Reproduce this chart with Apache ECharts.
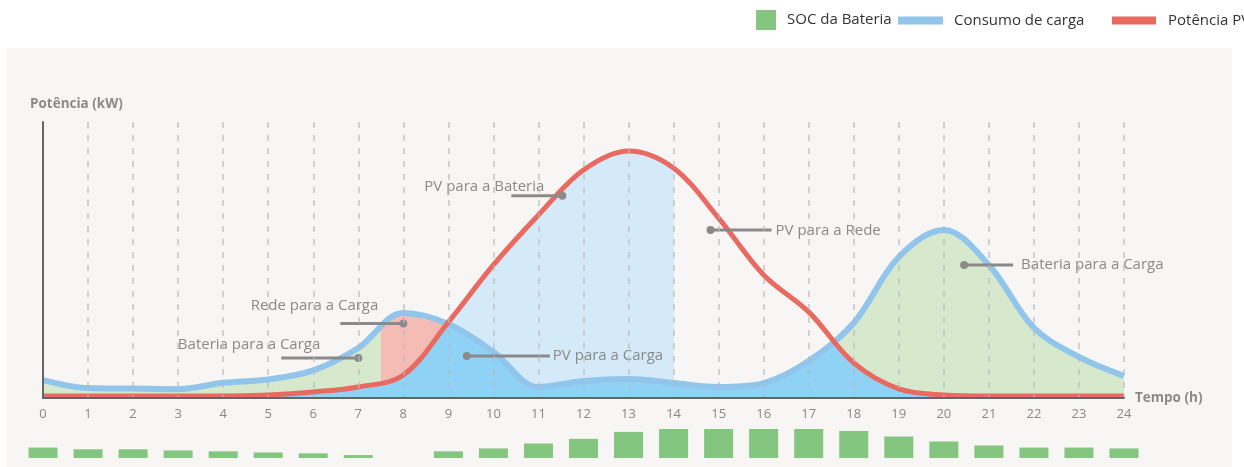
<!DOCTYPE html>
<html>
<head>
<meta charset="utf-8">
<script src="https://cdn.jsdelivr.net/npm/echarts@6/dist/echarts.min.js"></script>
<style>
html,body{margin:0;padding:0;background:#ffffff;}
#chart{width:1244px;height:467px;}
</style>
</head>
<body>
<div id="chart"></div>
<script>
// ---------------- DATA ----------------
const hours = [0,1,2,3,4,5,6,7,8,9,10,11,12,13,14,15,16,17,18,19,20,21,22,23,24];
const hourLabels = ['0','1','2','3','4','5','6','7','8','9','10','11','12','13','14','15','16','17','18','19','20','21','22','23','24'];
// Consumo de carga (kW)
const loadKW = [0.65,0.36,0.34,0.32,0.55,0.67,1.00,1.81,3.08,2.68,1.67,0.40,0.62,0.69,0.54,0.40,0.54,1.34,2.72,5.11,6.09,4.82,2.54,1.49,0.80];
// Potência PV (kW)
const pvKW = [0.07,0.07,0.07,0.07,0.07,0.11,0.22,0.40,0.83,2.75,4.82,6.63,8.26,8.95,8.33,6.52,4.46,3.12,1.27,0.33,0.11,0.07,0.07,0.07,0.07];
// SOC da Bateria (%)
const socPct = [36,30,30,26,23,19,16,10,0,23,33,50,66,90,100,100,100,100,93,74,57,43,36,36,33];
// Energy-flow segment boundaries (h)
const gridToLoadStart = 7.5;   // Rede para a Carga starts
const pvLoadCross1 = 8.96;     // PV exceeds load
const pvToBatteryEnd = 14;     // battery full
const pvLoadCross2 = 17.55;    // load exceeds PV
// Flow annotations
const flowLabels = ['Rede para a Carga','Bateria para a Carga','PV para a Carga','PV para a Bateria','PV para a Rede','Bateria para a Carga'];
const flowAnchorH = [8.0, 7.0, 9.41, 11.53, 14.82, 20.45];
const flowAnchorKW = [2.70, 1.45, 1.52, 7.33, 6.09, 4.82];

// ---------------- STYLE / LAYOUT ----------------
const FONT = '"Open Sans", "Noto Sans", sans-serif';
const SMOOTH = 0.35;
const C = {
  load: '#92c5ec', pv: '#e96a60', soc: '#84c57f',
  fillBlue: '#8fd2f5', fillLightBlue: '#d4eaf9', fillGreen: '#d6e9cd', fillPink: '#f5bcb5',
  none: 'rgba(0,0,0,0)', annot: '#8a8a8a'
};
const calloutLayout = [
  {dx:-63, tx:-25, ty:-18, align:'right'},
  {dx:-77, tx:-38, ty:-13, align:'right'},
  {dx:83,  tx:86,  ty:0,   align:'left'},
  {dx:-51, tx:-18, ty:-9,  align:'right'},
  {dx:61,  tx:65,  ty:1,   align:'left'},
  {dx:49,  tx:57,  ty:0,   align:'left'}
];

const pair = arr => hours.map((h, i) => [h, arr[i]]);

const chart = echarts.init(document.getElementById('chart'), null, {renderer:'canvas'});

const option = {
  animation: false,
  textStyle: {fontFamily: FONT},
  graphic: [
    {type:'rect', z:-100, silent:true, shape:{x:7, y:48, width:1225, height:419}, style:{fill:'#f7f6f5'}},
    {type:'text', z:50, silent:true, x:30, y:104, style:{text:'Potência (kW)', fill:'#8a8a8a', font:'bold 13.5px ' + FONT, verticalAlign:'middle'}}
  ],
  legend: [
    {data:['SOC da Bateria'], left:756, top:10, padding:0, icon:'rect', itemWidth:20, itemHeight:20,
     textStyle:{fontSize:15, color:'#333', fontFamily:FONT, padding:[0,0,0,6]}},
    {data:['Consumo de carga'], left:898, top:13, padding:0, icon:'rect', itemWidth:45, itemHeight:8,
     textStyle:{fontSize:15, color:'#333', fontFamily:FONT, padding:[0,0,0,6]}},
    {data:['Potência PV'], left:1112, top:13, padding:0, icon:'rect', itemWidth:44, itemHeight:8,
     textStyle:{fontSize:15, color:'#333', fontFamily:FONT, padding:[0,0,0,7]}}
  ],
  grid: [
    {left:43, right:120, top:122, bottom:69},
    {left:43, right:120, top:429, bottom:9}
  ],
  xAxis: [
    {type:'value', gridIndex:0, min:0, max:24, interval:1, z:10,
     name:'Tempo (h)', nameLocation:'end', nameGap:11,
     nameTextStyle:{color:'#8a8a8a', fontWeight:'bold', fontSize:13.5, fontFamily:FONT, verticalAlign:'middle', padding:[0,0,8,0]},
     axisLine:{lineStyle:{color:'#666', width:2}},
     axisTick:{show:false},
     axisLabel:{color:'#888', fontSize:13, margin:10, fontFamily:FONT, formatter: v => hourLabels[v]},
     splitLine:{show:true, showMinLine:false, lineStyle:{color:'rgba(185,185,185,0.6)', width:2, type:[6,7]}}
    },
    {type:'value', gridIndex:1, min:0, max:24, show:false}
  ],
  yAxis: [
    {type:'value', gridIndex:0, min:0, max:10, z:11,
     axisLine:{show:true, lineStyle:{color:'#666', width:2}},
     axisTick:{show:false}, axisLabel:{show:false}, splitLine:{show:false}},
    {type:'value', gridIndex:1, min:0, max:100, show:false}
  ],
  visualMap: [
    {show:false, seriesIndex:0, dimension:0, pieces:[
      {gte:-1, lt:pvToBatteryEnd, color:C.fillLightBlue},
      {gte:pvToBatteryEnd, lte:25, color:C.none}]},
    {show:false, seriesIndex:1, dimension:0, pieces:[
      {gte:-1, lt:gridToLoadStart, color:C.fillGreen},
      {gte:gridToLoadStart, lt:pvLoadCross1, color:C.fillPink},
      {gte:pvLoadCross1, lt:pvLoadCross2, color:C.fillBlue},
      {gte:pvLoadCross2, lte:25, color:C.fillGreen}]},
    {show:false, seriesIndex:2, dimension:0, pieces:[
      {gte:-1, lt:pvLoadCross1, color:C.fillBlue},
      {gte:pvLoadCross1, lt:pvLoadCross2, color:C.none},
      {gte:pvLoadCross2, lte:25, color:C.fillBlue}]}
  ],
  series: [
    // 0: PV para a Bateria (area under PV, only until battery full)
    {type:'line', xAxisIndex:0, yAxisIndex:0, data:pair(pvKW), smooth:SMOOTH, showSymbol:false, silent:true, z:1,
     lineStyle:{width:0}, areaStyle:{opacity:1}},
    // 1: area under load coloured by source
    {type:'line', xAxisIndex:0, yAxisIndex:0, data:pair(loadKW), smooth:SMOOTH, showSymbol:false, silent:true, z:1,
     lineStyle:{width:0}, areaStyle:{opacity:1}},
    // 2: PV para a Carga where PV < load
    {type:'line', xAxisIndex:0, yAxisIndex:0, data:pair(pvKW), smooth:SMOOTH, showSymbol:false, silent:true, z:1,
     lineStyle:{width:0}, areaStyle:{opacity:1}},
    // 3: Consumo de carga line
    {name:'Consumo de carga', type:'line', xAxisIndex:0, yAxisIndex:0, data:pair(loadKW), smooth:SMOOTH, showSymbol:false, z:3,
     color:C.load, lineStyle:{color:C.load, width:6}},
    // 4: Potência PV line
    {name:'Potência PV', type:'line', xAxisIndex:0, yAxisIndex:0, data:pair(pvKW), smooth:SMOOTH, showSymbol:false, z:4,
     color:C.pv, lineStyle:{color:C.pv, width:5}},
    // 5: flow annotations
    {type:'custom', xAxisIndex:0, yAxisIndex:0, z:6, silent:true,
     data: flowAnchorH.map((h, i) => [h, flowAnchorKW[i]]),
     renderItem: function (params, api) {
       const i = params.dataIndex;
       const p = api.coord([api.value(0), api.value(1)]);
       const L = calloutLayout[i];
       return {type:'group', children:[
         {type:'line', shape:{x1:p[0], y1:p[1], x2:p[0] + L.dx, y2:p[1]}, style:{stroke:C.annot, lineWidth:3}},
         {type:'circle', shape:{cx:p[0], cy:p[1], r:4}, style:{fill:C.annot}},
         {type:'text', x:p[0] + L.tx, y:p[1] + L.ty, style:{text:flowLabels[i], fill:C.annot, font:'15px ' + FONT, align:L.align, verticalAlign:'middle'}}
       ]};
     }},
    // 6: SOC bars
    {name:'SOC da Bateria', type:'bar', xAxisIndex:1, yAxisIndex:1, data:pair(socPct), barWidth:29, clip:false,
     color:C.soc, itemStyle:{color:C.soc}}
  ]
};
chart.setOption(option);
</script>
</body>
</html>
